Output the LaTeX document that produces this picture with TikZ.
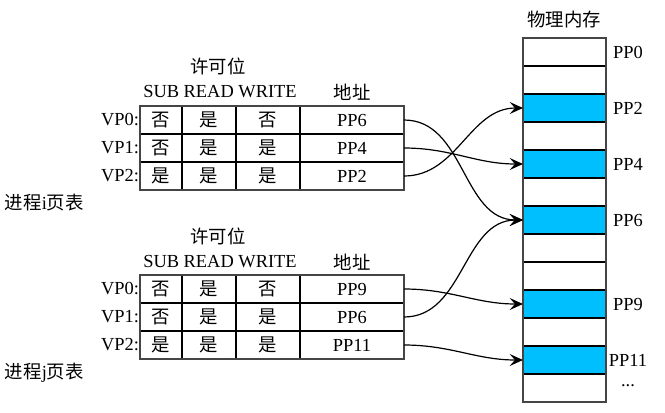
\documentclass[tikz,border=0pt]{standalone}
\usepackage{fontspec}
\setmainfont{Liberation Serif}
\newfontfamily\cjk{Noto Sans CJK SC}
\usetikzlibrary{arrows.meta}
\definecolor{memblue}{HTML}{00BFFF}
\definecolor{frame}{HTML}{454545}
\begin{document}
\begin{tikzpicture}[x=0.75pt,y=-0.75pt,
  every node/.style={font=\fontsize{13.8}{16}\selectfont, inner sep=0pt, outer sep=0pt},
  cjkt/.style={font=\fontsize{13.8}{16}\selectfont\cjk},
  cell/.style={minimum height=21pt},
  addr/.style={cell, minimum width=78pt},
  memcell/.style={draw=black, line width=1pt, minimum width=62.25pt, minimum height=21pt},
  used/.style={memcell, fill=memblue},
  grid/.style={line width=1pt, black},
  outer/.style={line width=1.1pt, frame},
  link/.style={line width=0.9pt, -{Stealth[length=10pt,width=9pt,inset=4pt]}}
]
\useasboundingbox (0,0) rectangle (665,412);

% ---------- memory ----------
\foreach \i/\s in {0/memcell,1/memcell,2/used,3/memcell,4/used,5/memcell,6/used,7/memcell,8/memcell,9/used,10/memcell,11/used,12/memcell}{
  \node[\s] (m\i) at (564.5,{52+28*\i}) {};
}
\draw[outer] (m0.north west) rectangle (m12.south east);
\node[cjkt] (memtitle) at (564,20) {物理内存};
\node (l0) at (628,52) {PP0};
\node (l2) at (628,108) {PP2};
\node (l4) at (628,164) {PP4};
\node (l6) at (628,220) {PP6};
\node (l9) at (628,304) {PP9};
\node (l11) at (628,360) {PP11};
\node (ldots) at (628,386) {...};

% ---------- table i ----------
\begin{scope}
\node[cjkt] (pi) at (218,66) {许可位};
\node (hi) at (220,92) {SUB READ WRITE};
\node[cjkt] (ai) at (352,92) {地址};
\draw[grid] (140,134) -- (404,134) (140,162) -- (404,162);
\draw[grid] (182,106) -- (182,190) (236,106) -- (236,190) (300,106) -- (300,190);
\draw[outer] (140,106) rectangle (404,190);
\node[anchor=east] (vi0) at (139,120) {VP0:};
\node[anchor=east] (vi1) at (139,148) {VP1:};
\node[anchor=east] (vi2) at (139,176) {VP2:};
\node[cjkt] at (161,120) {否}; \node[cjkt] at (209,120) {是}; \node[cjkt] at (268,120) {否};
\node[cjkt] at (161,148) {否}; \node[cjkt] at (209,148) {是}; \node[cjkt] at (268,148) {是};
\node[cjkt] at (161,176) {是}; \node[cjkt] at (209,176) {是}; \node[cjkt] at (268,176) {是};
\node[addr] (ti0) at (352,120) {PP6};
\node[addr] (ti1) at (352,148) {PP4};
\node[addr] (ti2) at (352,176) {PP2};
\node[anchor=west] (namei) at (5,203) {{\cjk 进程}i{\cjk 页表}};
\end{scope}

% ---------- table j ----------
\begin{scope}
\node[cjkt] (pj) at (218,236) {许可位};
\node (hj) at (220,262) {SUB READ WRITE};
\node[cjkt] (aj) at (352,262) {地址};
\draw[grid] (140,303) -- (404,303) (140,331) -- (404,331);
\draw[grid] (182,275) -- (182,359) (236,275) -- (236,359) (300,275) -- (300,359);
\draw[outer] (140,275) rectangle (404,359);
\node[anchor=east] (vj0) at (139,289) {VP0:};
\node[anchor=east] (vj1) at (139,317) {VP1:};
\node[anchor=east] (vj2) at (139,345) {VP2:};
\node[cjkt] at (161,289) {否}; \node[cjkt] at (209,289) {是}; \node[cjkt] at (268,289) {否};
\node[cjkt] at (161,317) {否}; \node[cjkt] at (209,317) {是}; \node[cjkt] at (268,317) {是};
\node[cjkt] at (161,345) {是}; \node[cjkt] at (209,345) {是}; \node[cjkt] at (268,345) {是};
\node[addr] (tj0) at (352,289) {PP9};
\node[addr] (tj1) at (352,317) {PP6};
\node[addr] (tj2) at (352,345) {PP11};
\node[anchor=west] (namej) at (5,373) {{\cjk 进程}j{\cjk 页表}};
\end{scope}

% ---------- links ----------
\draw[link] (ti0.east) to[out=0,in=180] (m6.west);
\draw[link] (ti1.east) to[out=0,in=180] (m4.west);
\draw[link] (ti2.east) to[out=0,in=180] (m2.west);
\draw[link] (tj0.east) to[out=0,in=180] (m9.west);
\draw[link] (tj1.east) to[out=0,in=180] (m6.west);
\draw[link] (tj2.east) to[out=0,in=180] (m11.west);
\end{tikzpicture}
\end{document}
